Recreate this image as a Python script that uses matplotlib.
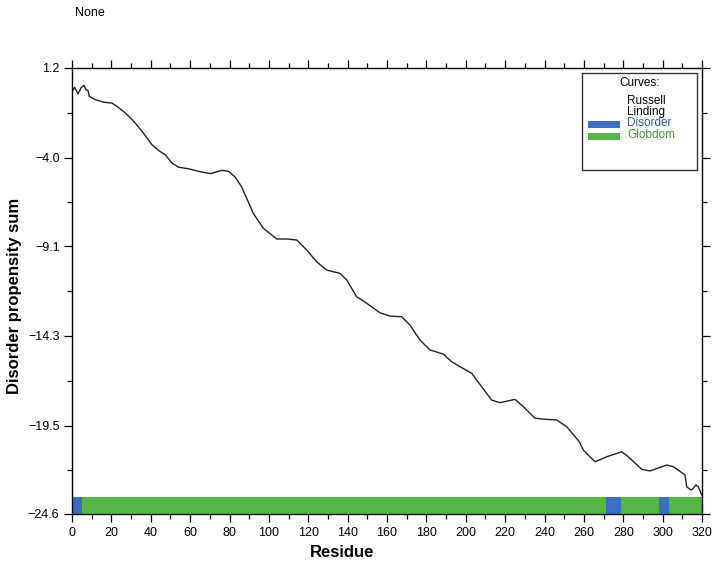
import matplotlib
matplotlib.use("Agg")
import matplotlib.pyplot as plt
from matplotlib.patches import Rectangle

plt.rcParams["font.family"] = ["Liberation Sans", "DejaVu Sans"]

# disorder propensity curve
residue = [0.0, 1.37, 3.05, 4.72, 6.10, 7.11, 8.13, 8.79, 11.83, 16.10, 20.32,
           22.86, 27.07, 31.34, 35.56, 40.63, 44.04, 47.39, 50.79, 54.20,
           59.28, 64.36, 70.25, 76.19, 79.59, 82.95, 85.99, 88.74, 92.09,
           97.17, 103.97, 109.05, 114.13, 119.21, 124.29, 129.37, 136.13,
           139.53, 144.61, 149.69, 156.44, 161.52, 167.47, 171.68, 176.76,
           181.84, 188.60, 192.86, 197.08, 203.02, 208.10, 213.18, 217.40,
           225.02, 229.23, 235.17, 240.25, 246.20, 251.28, 257.68, 259.71,
           265.65, 271.59, 279.21, 282.57, 289.37, 293.59, 302.07, 305.42,
           311.37, 312.23, 313.90, 314.77, 316.95, 318.12, 319.85]
propensity = [-0.15, 0.08, -0.30, 0.08, 0.20, -0.06, -0.11, -0.44, -0.63, -0.78,
              -0.83, -1.02, -1.40, -1.88, -2.46, -3.24, -3.58, -3.82, -4.30,
              -4.54, -4.63, -4.78, -4.91, -4.72, -4.78, -5.12, -5.64, -6.34,
              -7.21, -8.07, -8.69, -8.69, -8.75, -9.33, -10.01, -10.49, -10.68,
              -11.06, -12.03, -12.41, -12.96, -13.15, -13.19, -13.67, -14.54,
              -15.11, -15.35, -15.79, -16.08, -16.46, -17.24, -18.01, -18.16,
              -17.97, -18.39, -19.06, -19.12, -19.16, -19.55, -20.42, -20.90,
              -21.58, -21.29, -21.00, -21.29, -22.01, -22.11, -21.77, -21.86,
              -22.34, -23.02, -23.17, -23.21, -22.92, -23.02, -23.50]

# predicted regions (start, end residue)
globdom_regions = [(0, 320)]
disorder_regions = [(0, 5), (271, 279), (298, 303)]

y_ticks = [1.2, -4.0, -9.1, -14.3, -19.5, -24.6]
y_minor = [-1.4, -6.55, -11.7, -16.9, -22.05]
x_ticks = list(range(0, 321, 20))
x_minor = list(range(10, 320, 20))

blue = "#3c6ec0"
green = "#54b848"

fig = plt.figure(figsize=(7.19, 5.66), dpi=100)
ax = fig.add_axes([72 / 719, 1 - 514 / 566, 630 / 719, 446 / 566])

ax.plot(residue, propensity, color="#222222", lw=1.0)

strip_bottom, strip_height = -24.6, 1.0
ax.broken_barh([(s, e - s) for s, e in globdom_regions], (strip_bottom, strip_height),
               facecolor=green, edgecolor="none")
ax.broken_barh([(s, e - s) for s, e in disorder_regions], (strip_bottom, strip_height),
               facecolor=blue, edgecolor="none")

ax.set_xlim(0, 320)
ax.set_ylim(-24.6, 1.2)
ax.set_xticks(x_ticks)
ax.set_xticks(x_minor, minor=True)
ax.set_yticks(y_ticks)
ax.set_yticklabels([f"{v:.1f}".replace("-", "\u2212") for v in y_ticks])
ax.set_yticks(y_minor, minor=True)
ax.tick_params(which="both", direction="out", top=True, right=True, labelsize=9,
               width=0.9, pad=3)
ax.tick_params(which="major", length=6)
ax.tick_params(which="minor", length=3.5)
for s in ax.spines.values():
    s.set_linewidth(1.0)

ax.set_xlabel("Residue", fontsize=12, fontweight="bold")
ax.xaxis.set_label_coords((342 - 72) / 630, -0.07)
ax.set_ylabel("Disorder propensity sum", fontsize=12, fontweight="bold")
ax.yaxis.set_label_coords((22 - 72) / 630, 0.49)

fig.text(75 / 719, 1 - 13 / 566, "None", fontsize=9, va="center", ha="left")

# legend box
fig.patches.append(Rectangle((582 / 719, 1 - 170 / 566), 115 / 719, 97 / 566,
                             transform=fig.transFigure, facecolor="white",
                             edgecolor="#333333", lw=1.0))
fig.text(640 / 719, 1 - 83 / 566, "Curves:", fontsize=8.5, ha="center", va="center")
fig.text(627 / 719, 1 - 101 / 566, "Russell", fontsize=8.5, va="center")
fig.text(627 / 719, 1 - 112 / 566, "Linding", fontsize=8.5, va="center")
fig.text(627 / 719, 1 - 123.5 / 566, "Disorder", fontsize=8.5, va="center", color="#2f5da8")
fig.text(627 / 719, 1 - 135.5 / 566, "Globdom", fontsize=8.5, va="center", color="#3f9e3a")
fig.patches.append(Rectangle((588 / 719, 1 - 127.5 / 566), 32 / 719, 7 / 566,
                             transform=fig.transFigure, facecolor=blue, edgecolor="none"))
fig.patches.append(Rectangle((588 / 719, 1 - 139.5 / 566), 32 / 719, 7 / 566,
                             transform=fig.transFigure, facecolor=green, edgecolor="none"))

fig.savefig("out.png", dpi=100)
